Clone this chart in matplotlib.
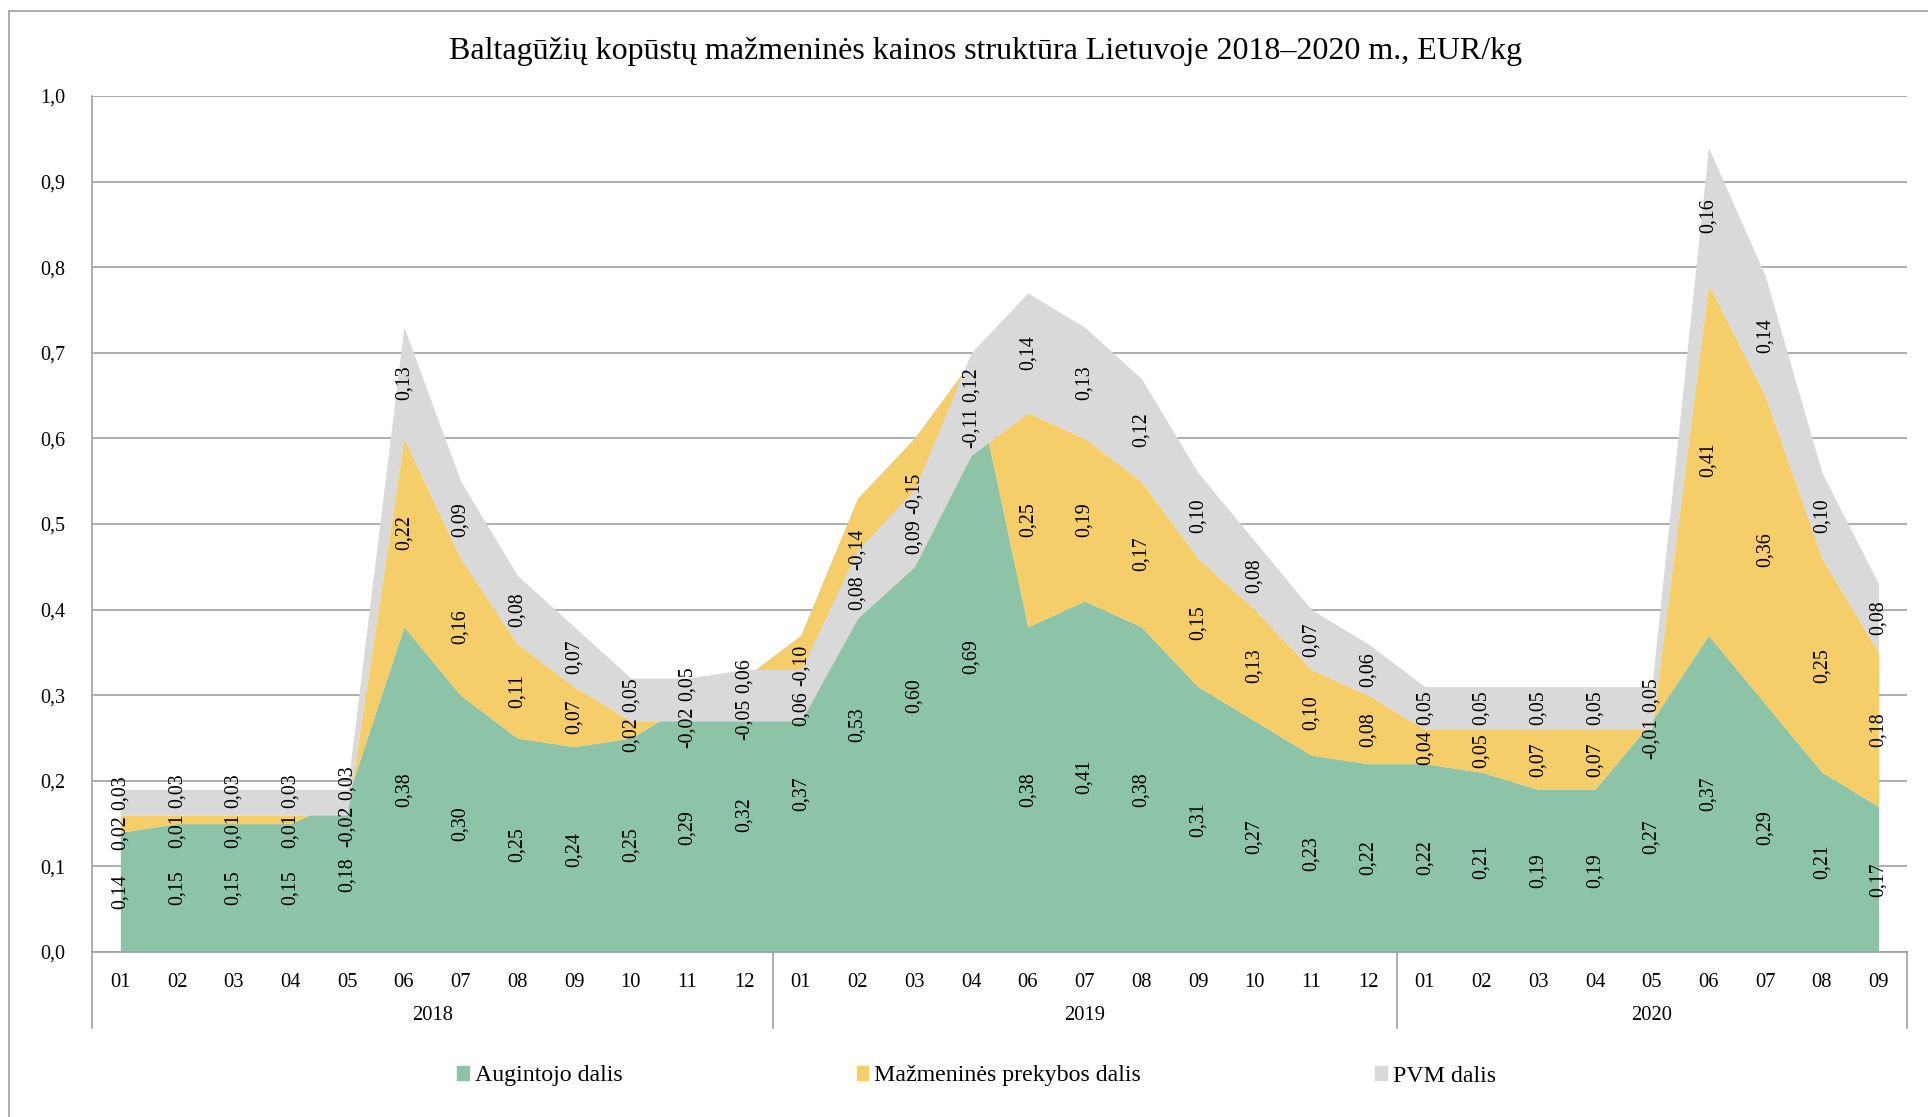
import numpy as np
import matplotlib.pyplot as plt
from matplotlib.patches import Patch, Rectangle

plt.rcParams['font.family'] = ['Liberation Serif', 'DejaVu Serif']

# kategorijos
years = ['2018', '2019', '2020']
months_2018 = ['01', '02', '03', '04', '05', '06', '07', '08', '09', '10', '11', '12']
months_2019 = ['01', '02', '03', '04', '06', '07', '08', '09', '10', '11', '12']
months_2020 = ['01', '02', '03', '04', '05', '06', '07', '08', '09']

# augintojo dalis
grower = [0.14, 0.15, 0.15, 0.15, 0.18, 0.38, 0.30, 0.25, 0.24, 0.25, 0.29, 0.32,
          0.37, 0.53, 0.60, 0.69, 0.38, 0.41, 0.38, 0.31, 0.27, 0.23, 0.22,
          0.22, 0.21, 0.19, 0.19, 0.27, 0.37, 0.29, 0.21, 0.17]
# mazmenines prekybos dalis
retail = [0.02, 0.01, 0.01, 0.01, -0.02, 0.22, 0.16, 0.11, 0.07, 0.02, -0.02, -0.05,
          -0.10, -0.14, -0.15, -0.11, 0.25, 0.19, 0.17, 0.15, 0.13, 0.10, 0.08,
          0.04, 0.05, 0.07, 0.07, -0.01, 0.41, 0.36, 0.25, 0.18]
# PVM dalis
vat = [0.03, 0.03, 0.03, 0.03, 0.03, 0.13, 0.09, 0.08, 0.07, 0.05, 0.05, 0.06,
       0.06, 0.08, 0.09, 0.12, 0.14, 0.13, 0.12, 0.10, 0.08, 0.07, 0.06,
       0.05, 0.05, 0.05, 0.05, 0.05, 0.16, 0.14, 0.10, 0.08]

series_names = ['Augintojo dalis', 'Mažmeninės prekybos dalis', 'PVM dalis']
colors = ['#8DC3A7', '#F5CD69', '#D9D9D9']

months = months_2018 + months_2019 + months_2020
group_sizes = [len(months_2018), len(months_2019), len(months_2020)]
n = len(months)
x = np.arange(n)

W, H = 1928, 1117
fig = plt.figure(figsize=(W / 100, H / 100), dpi=100)
ax = fig.add_axes([92 / W, 1 - 952 / H, (1907 - 92) / W, (952 - 96) / H])

# rėmelis (nupjautas dešinėje ir apačioje)
fig.patches.append(Rectangle((9 / W, -0.1), 1.2, 1 - 11 / H + 0.1, transform=fig.transFigure,
                             fill=False, edgecolor='#A6A6A6', lw=1.3))

# sukrautos sritys, kaip Excel: kiekviena tarp ankstesnės ir naujos sumos
data = [np.array(grower), np.array(retail), np.array(vat)]
base = np.zeros(n)
bands = []
for i, vals in enumerate(data):
    top = base + vals
    ax.fill_between(x, base, top, color=colors[i], lw=0, zorder=2 + i)
    bands.append((base.copy(), top.copy()))
    base = top

# duomenų žymės
px_per_unit = 855.6
em = 20.0


def label_len(s):
    w = 0
    for ch in s:
        w += 0.25 if ch == ',' else (0.333 if ch == '-' else 0.5)
    return w * em / px_per_unit


for j in range(n):
    items = []
    for i, vals in enumerate(data):
        lo, hi = bands[i][0][j], bands[i][1][j]
        txt = f'{vals[j]:.2f}'.replace('.', ',')
        items.append([(lo + hi) / 2, label_len(txt) / 2, txt, i])
    items.sort(key=lambda t: (t[0], t[3]))
    for _ in range(20):
        for k in range(len(items) - 1):
            a, b = items[k], items[k + 1]
            need = a[1] + b[1] + 0.006
            if b[0] - a[0] < need:
                d = (need - (b[0] - a[0])) / 2
                a[0] -= d
                b[0] += d
    for c, h, txt, i in items:
        ax.text(x[j], c, txt, rotation=90, ha='center', va='center',
                fontsize=14.3, zorder=10, rotation_mode='anchor')

ax.set_xlim(-0.5, n - 0.5)
ax.set_ylim(0, 1.0)
ax.set_yticks(np.arange(0, 1.01, 0.1))
ax.set_yticklabels([f'{v:.1f}'.replace('.', ',') for v in np.arange(0, 1.01, 0.1)], fontsize=14.5)
ax.yaxis.grid(True, color='#A0A0A0', lw=1.2)
ax.set_axisbelow(True)
ax.tick_params(axis='y', length=0, pad=19)
ax.set_xticks(x)
ax.set_xticklabels(months, fontsize=14.8)
ax.tick_params(axis='x', length=0, pad=15)
for s in ['top', 'right']:
    ax.spines[s].set_visible(False)
ax.spines['left'].set_color('#A0A0A0')
ax.spines['bottom'].set_color('#A0A0A0')
ax.spines['left'].set_linewidth(1.2)
ax.spines['bottom'].set_linewidth(1.2)

# metų grupės
sep_y = -(1028 - 952) / (952 - 96)
xt = ax.get_xaxis_transform()
edges = np.concatenate([[0], np.cumsum(group_sizes)]) - 0.5
for e in edges:
    ax.plot([e, e], [0, sep_y], color='#A0A0A0', lw=1.2, transform=xt, clip_on=False)
for k, yr in enumerate(years):
    ax.text((edges[k] + edges[k + 1]) / 2, -(1015 - 952) / (952 - 96), yr, transform=xt,
            ha='center', va='center', fontsize=14.8)

fig.text(0.511, 1 - 51 / H, 'Baltagūžių kopūstų mažmeninės kainos struktūra Lietuvoje 2018–2020 m., EUR/kg',
         ha='center', va='center', fontsize=23)

handles = [Patch(color=c) for c in colors]
fig.legend(handles, series_names, loc='center', bbox_to_anchor=(0.5065, 1 - 1076 / H), ncol=3,
           frameon=False, fontsize=17.2, handlelength=0.5, handleheight=0.5, handletextpad=0.25,
           columnspacing=9.8)

fig.savefig('out.png', dpi=100)
